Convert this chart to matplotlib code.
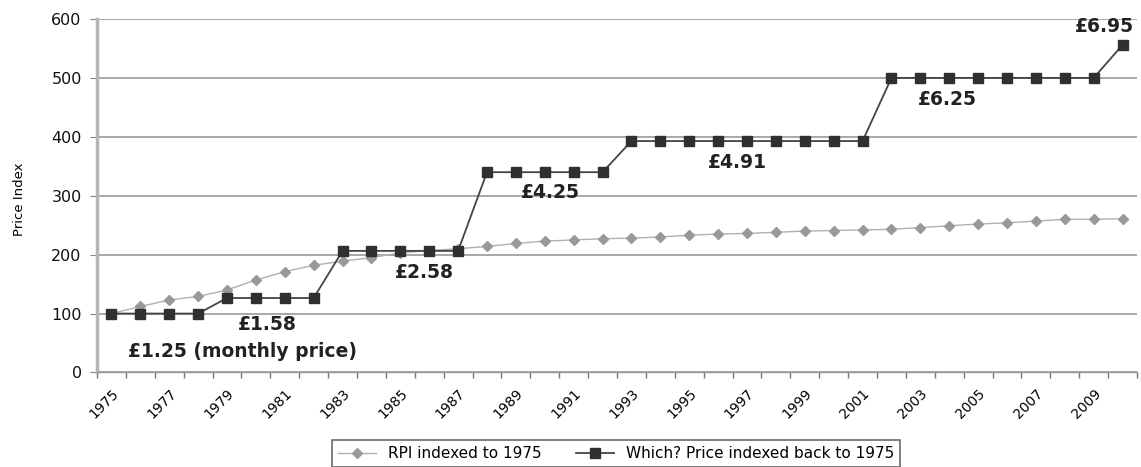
import numpy as np
import matplotlib.pyplot as plt

# Years covered
years = list(range(1975, 2011))

# Retail Price Index rebased to 1975 = 100
rpi_index = [100, 112, 123, 129, 140, 157, 171, 182, 189, 195,
             203, 207, 210, 214, 219, 223, 225, 227, 228, 230,
             233, 235, 236, 238, 240, 241, 242, 243, 246, 249,
             252, 254, 257, 260, 260, 261]

# Which? monthly price in pounds, year by year
which_price = [1.25, 1.25, 1.25, 1.25,
               1.58, 1.58, 1.58, 1.58,
               2.58, 2.58, 2.58, 2.58, 2.58,
               4.25, 4.25, 4.25, 4.25, 4.25,
               4.91, 4.91, 4.91, 4.91, 4.91, 4.91, 4.91, 4.91, 4.91,
               6.25, 6.25, 6.25, 6.25, 6.25, 6.25, 6.25, 6.25,
               6.95]

# Price labels written on the chart
price_labels = ['£1.25 (monthly price)', '£1.58', '£2.58', '£4.25',
                '£4.91', '£6.25', '£6.95']

# price indexed back to 1975
which_index = np.array(which_price) / which_price[0] * 100
x = np.arange(len(years))

fig = plt.figure(figsize=(11.41, 4.67), dpi=100)
ax = fig.add_axes([0.085, 0.2024, 0.9115, 0.7569])

ax.plot(x, rpi_index, color='#b0b0b0', linewidth=1.0, marker='D',
        markersize=5.5, markerfacecolor='#999999', markeredgecolor='#999999',
        label='RPI indexed to 1975', zorder=3)
ax.plot(x, which_index, color='#444444', linewidth=1.3, marker='s',
        markersize=7, markerfacecolor='#303030', markeredgecolor='#303030',
        label='Which? Price indexed back to 1975', zorder=4)

# text positions (x in category units, y in index units)
label_x = [4.54, 5.39, 10.82, 15.18, 21.65, 28.92, 34.36]
label_y = [35, 82, 169, 306, 356, 464, 587]
for txt, lx, ly in zip(price_labels, label_x, label_y):
    ax.text(lx, ly, txt, ha='center', va='center', fontsize=13.5,
            fontweight='bold', color='#222222', zorder=5)

ax.set_xlim(-0.5, len(years) - 0.5)
ax.set_ylim(0, 600)
ax.set_yticks(range(0, 601, 100))
ax.yaxis.grid(True, color='#9a9a9a', linewidth=1.2)
ax.set_axisbelow(True)

ax.set_xticks(x[::2])
ax.set_xticklabels([str(y) for y in years[::2]], fontsize=10)
ax.set_xticks(np.arange(-0.5, len(years), 1), minor=True)
ax.tick_params(axis='x', which='major', length=0, pad=10)
ax.tick_params(axis='x', which='minor', length=4, color='#777777', width=1)
plt.setp(ax.get_xticklabels(), rotation=45, ha='right', rotation_mode='anchor')

ax.tick_params(axis='y', length=5, color='#888888', labelsize=11.5, pad=6,
               labelcolor='#111111')

for side in ['top', 'right']:
    ax.spines[side].set_visible(False)
ax.spines['left'].set_color('#b5b5b5')
ax.spines['left'].set_linewidth(2.5)
ax.spines['bottom'].set_color('#999999')
ax.spines['bottom'].set_linewidth(1.0)

ax.set_ylabel('Price Index', fontsize=9.5)
ax.yaxis.set_label_coords(-0.068, 0.49)

leg = fig.legend(loc='upper center', bbox_to_anchor=(0.54, 0.058), ncol=2,
                 fontsize=11, frameon=True, fancybox=False, handlelength=2.5,
                 columnspacing=2.2, borderaxespad=0)
leg.get_frame().set_edgecolor('#444444')
leg.get_frame().set_linewidth(1.2)

fig.savefig('out.png', dpi=100)
